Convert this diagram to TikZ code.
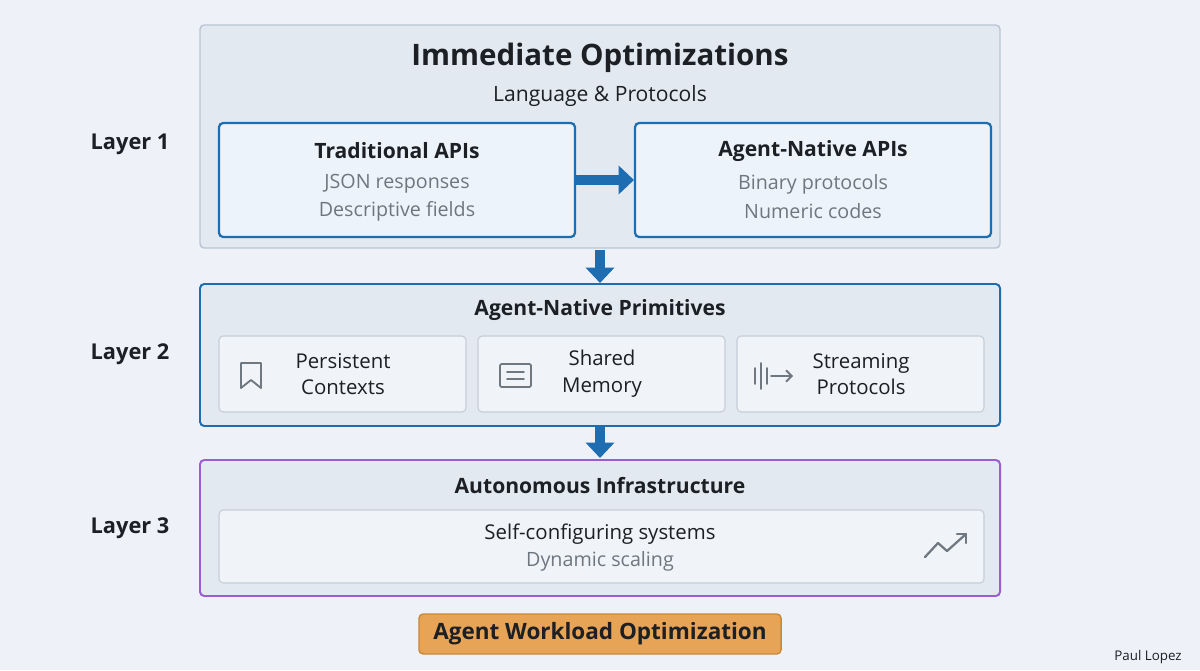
\documentclass[tikz,border=0pt]{standalone}
\usepackage{fontspec}
\setmainfont{Open Sans}
\usetikzlibrary{arrows.meta}
\definecolor{bgc}{HTML}{EEF2F8}
\definecolor{layerfill}{HTML}{E3E9F1}
\definecolor{layeredge}{HTML}{B9C5D2}
\definecolor{apiblue}{HTML}{1E6DB0}
\definecolor{apifill}{HTML}{EDF3FA}
\definecolor{cellfill}{HTML}{F0F3F7}
\definecolor{celledge}{HTML}{C6CED8}
\definecolor{purp}{HTML}{9A5ED2}
\definecolor{greytxt}{HTML}{6E7680}
\definecolor{darktxt}{HTML}{1C1F24}
\definecolor{orangef}{HTML}{E8A456}
\definecolor{oranged}{HTML}{C88838}
\definecolor{icon}{HTML}{6F7780}
\begin{document}
\begin{tikzpicture}[x=0.025cm,y=-0.025cm,
    layer/.style={draw=layeredge,fill=layerfill,line width=1pt,rounded corners=3pt},
    apibox/.style={draw=apiblue,fill=apifill,line width=1.6pt,rounded corners=3pt},
    cell/.style={draw=celledge,fill=cellfill,line width=0.8pt,rounded corners=3pt},
    title/.style={font=\fontsize{15}{18}\selectfont\bfseries,text=darktxt},
    sub/.style={font=\fontsize{14}{17}\selectfont,text=greytxt},
    body/.style={font=\fontsize{14.5}{19}\selectfont,text=darktxt,align=center},
    lbl/.style={font=\fontsize{15.5}{18}\selectfont\bfseries,text=darktxt},
    flow/.style={draw=apiblue,line width=7pt,-{Triangle[length=11pt,width=20pt]}},
    ico/.style={draw=icon,line width=1.3pt,line cap=round,line join=round}]
    \fill[bgc] (0,0) rectangle (1200,670);

    % Layer 1
    \draw[layer] (200,25) rectangle (1000,248);
    \node[font=\fontsize{21}{24}\selectfont\bfseries,text=darktxt] (t1) at (600,58) {Immediate Optimizations};
    \node[font=\fontsize{15}{18}\selectfont,text=darktxt] (s1) at (600,96) {Language \& Protocols};
    \foreach \x/\name/\head/\la/\lb in {
        219/trad/Traditional APIs/JSON responses/Descriptive fields,
        635/nat/Agent-Native APIs/Binary protocols/Numeric codes
        } {
        \draw[apibox] (\x,123) rectangle (\x+356,237);
        \node[title] (\name) at (\x+178,151) {\head};
        \node[sub] (\name a) at (\x+178,184) {\la};
        \node[sub] (\name b) at (\x+178,211) {\lb};
    }
    \coordinate (l) at (575,180);
    \coordinate (r) at (634,180);
    \draw[flow] (l) -- (r);
    \node[lbl] (L1) at (130,144) {Layer 1};

    % Layer 2
    \coordinate (d1) at (600,250);
    \coordinate (d2) at (600,283);
    \draw[flow] (d1) -- (d2);
    \draw[layer,draw=apiblue,line width=1.4pt] (200,284) rectangle (1000,426);
    \node[title] (t2) at (600,310) {Agent-Native Primitives};
    \foreach \x/\name/\txt in {
        219/pc/Persistent\\Contexts,
        478/sm/Shared\\Memory,
        737/sp/Streaming\\Protocols
        } {
        \draw[cell] (\x,336) rectangle (\x+247,412);
        \node[body] (\name) at (\x+124,374) {\txt};
    }
    % icons
    \draw[ico] (241,363) -- (241,388) -- (251,380) -- (261,388) -- (261,363) -- cycle;
    \draw[ico,rounded corners=1pt] (500,364) rectangle (531,387);
    \draw[ico] (507,372) -- (524,372) (507,379) -- (524,379);
    \draw[ico] (755,368) -- (755,384) (761,363) -- (761,389) (767,368) -- (767,384);
    \draw[ico,-{Straight Barb[length=4pt,width=8pt]}] (771,376) -- (793,376);
    \node[lbl] (L2) at (130,354) {Layer 2};

    % Layer 3
    \coordinate (d3) at (600,425);
    \coordinate (d4) at (600,458);
    \draw[flow] (d3) -- (d4);
    \draw[layer,draw=purp,line width=1.4pt] (200,460) rectangle (1000,596);
    \node[title] (t3) at (600,486) {Autonomous Infrastructure};
    \draw[cell] (219,510) rectangle (984,583);
    \node[font=\fontsize{14.5}{17}\selectfont,text=darktxt] (sc) at (600,534) {Self-configuring systems};
    \node[sub] (ds) at (600,561) {Dynamic scaling};
    \draw[ico,line width=1.6pt] (925,557) -- (938,543) -- (947,551) -- (966,534);
    \draw[ico,line width=1.6pt] (957,534) -- (966,534) -- (966,543);
    \node[lbl] (L3) at (130,528) {Layer 3};

    % bottom
    \node[draw=oranged,fill=orangef,line width=1pt,rounded corners=3pt,minimum width=362\pgflinewidth,
        font=\fontsize{16}{19}\selectfont\bfseries,text=darktxt,inner sep=0pt,
        minimum width=9.05cm,minimum height=1cm] (goal) at (600,634) {Agent Workload Optimization};
    \node[font=\fontsize{9.5}{11}\selectfont,text=darktxt] (auth) at (1148,657) {Paul Lopez};
\end{tikzpicture}
\end{document}
